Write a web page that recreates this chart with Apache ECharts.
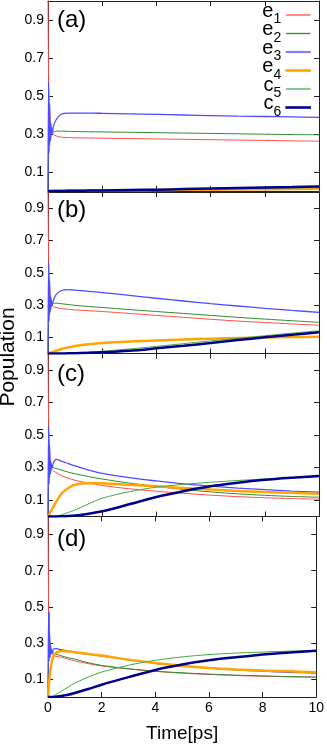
<!DOCTYPE html>
<html>
<head>
<meta charset="utf-8">
<script src="https://cdn.jsdelivr.net/npm/echarts@6/dist/echarts.min.js"></script>
<style>html,body{margin:0;padding:0;background:#fff;}#c{width:327px;height:744px;}</style>
</head>
<body>
<div id="c"></div>
<script>
// ---- data ----
const times = [0, 0.02, 0.04, 0.06, 0.08, 0.1, 0.15, 0.2, 0.3, 0.5, 0.75, 1, 1.5, 2, 3, 4, 5, 6, 7, 8, 9, 10];
const seriesNames = ['e1', 'e2', 'e3', 'e4', 'c5', 'c6'];
const panelLabels = ['(a)', '(b)', '(c)', '(d)'];
const yTicks = [0.1, 0.3, 0.5, 0.7, 0.9];

// panel (a)
const aE1 = [1.0, 0.62, 0.50, 0.44, 0.38, 0.34, 0.31, 0.30, 0.29, 0.283, 0.281, 0.280, 0.279, 0.278, 0.276, 0.274, 0.272, 0.270, 0.268, 0.266, 0.264, 0.262];
const aE2 = [0.0, 0.22, 0.45, 0.24, 0.36, 0.27, 0.33, 0.31, 0.315, 0.315, 0.314, 0.313, 0.312, 0.311, 0.309, 0.307, 0.305, 0.303, 0.301, 0.299, 0.297, 0.296];
const aE3 = [0.0, 0.57, 0.20, 0.46, 0.26, 0.36, 0.30, 0.34, 0.375, 0.405, 0.41, 0.41, 0.41, 0.409, 0.406, 0.403, 0.400, 0.397, 0.394, 0.392, 0.390, 0.388];
const aE4 = [0, 0, 0, 0, 0, 0, 0, 0, 0.001, 0.001, 0.002, 0.002, 0.003, 0.003, 0.004, 0.005, 0.006, 0.007, 0.008, 0.009, 0.010, 0.012];
const aC5 = [0, 0, 0, 0, 0, 0, 0, 0, 0, 0.001, 0.001, 0.002, 0.002, 0.003, 0.004, 0.006, 0.008, 0.010, 0.012, 0.014, 0.016, 0.018];
const aC6 = [0, 0, 0, 0, 0, 0, 0, 0, 0, 0, 0.001, 0.001, 0.002, 0.003, 0.005, 0.007, 0.010, 0.013, 0.016, 0.019, 0.021, 0.024];

// panel (b)
const bE1 = [1.0, 0.62, 0.49, 0.42, 0.36, 0.33, 0.30, 0.29, 0.285, 0.278, 0.274, 0.270, 0.265, 0.260, 0.248, 0.236, 0.224, 0.212, 0.201, 0.192, 0.183, 0.175];
const bE2 = [0.0, 0.22, 0.44, 0.24, 0.35, 0.27, 0.32, 0.31, 0.312, 0.308, 0.303, 0.298, 0.291, 0.285, 0.272, 0.260, 0.248, 0.236, 0.224, 0.213, 0.203, 0.193];
const bE3 = [0.0, 0.56, 0.20, 0.45, 0.26, 0.35, 0.30, 0.33, 0.365, 0.39, 0.395, 0.393, 0.385, 0.377, 0.360, 0.342, 0.325, 0.309, 0.294, 0.280, 0.267, 0.255];
const bE4 = [0, 0.001, 0.002, 0.003, 0.004, 0.005, 0.008, 0.011, 0.017, 0.028, 0.038, 0.046, 0.057, 0.065, 0.074, 0.081, 0.087, 0.092, 0.096, 0.099, 0.102, 0.104];
const bC5 = [0, 0, 0, 0, 0, 0, 0, 0, 0, 0.001, 0.003, 0.005, 0.009, 0.014, 0.028, 0.044, 0.061, 0.078, 0.094, 0.110, 0.126, 0.141];
const bC6 = [0, 0, 0, 0, 0, 0, 0, 0, 0, 0, 0.001, 0.002, 0.004, 0.007, 0.017, 0.032, 0.048, 0.065, 0.083, 0.100, 0.116, 0.131];

// panel (c)
const cE1 = [1.0, 0.62, 0.48, 0.40, 0.35, 0.32, 0.29, 0.28, 0.27, 0.25, 0.235, 0.222, 0.205, 0.190, 0.170, 0.155, 0.142, 0.131, 0.122, 0.115, 0.110, 0.106];
const cE2 = [0.0, 0.22, 0.42, 0.24, 0.34, 0.27, 0.31, 0.30, 0.295, 0.285, 0.272, 0.262, 0.245, 0.230, 0.205, 0.185, 0.166, 0.151, 0.139, 0.130, 0.123, 0.118];
const cE3 = [0.0, 0.55, 0.20, 0.44, 0.26, 0.34, 0.30, 0.33, 0.35, 0.34, 0.325, 0.31, 0.285, 0.265, 0.238, 0.218, 0.200, 0.186, 0.174, 0.165, 0.156, 0.149];
const cE4 = [0, 0.006, 0.012, 0.018, 0.024, 0.03, 0.045, 0.06, 0.09, 0.14, 0.175, 0.195, 0.205, 0.204, 0.195, 0.185, 0.175, 0.165, 0.157, 0.150, 0.145, 0.140];
const cC5 = [0, 0, 0, 0, 0, 0, 0, 0, 0.002, 0.010, 0.025, 0.040, 0.078, 0.112, 0.152, 0.180, 0.197, 0.210, 0.221, 0.230, 0.238, 0.245];
const cC6 = [0, 0, 0, 0, 0, 0, 0, 0, 0, 0.001, 0.003, 0.006, 0.017, 0.032, 0.075, 0.120, 0.155, 0.185, 0.207, 0.225, 0.238, 0.249];

// panel (d)
const dE1 = [1.0, 0.55, 0.38, 0.33, 0.28, 0.26, 0.24, 0.23, 0.225, 0.22, 0.21, 0.20, 0.185, 0.172, 0.155, 0.142, 0.132, 0.125, 0.119, 0.115, 0.112, 0.110];
const dE2 = [0.0, 0.20, 0.47, 0.22, 0.30, 0.24, 0.26, 0.245, 0.238, 0.228, 0.218, 0.21, 0.19, 0.175, 0.157, 0.143, 0.134, 0.127, 0.121, 0.117, 0.113, 0.110];
const dE3 = [0.0, 0.47, 0.20, 0.36, 0.22, 0.28, 0.24, 0.265, 0.268, 0.262, 0.255, 0.248, 0.237, 0.227, 0.206, 0.187, 0.172, 0.160, 0.150, 0.143, 0.137, 0.132];
const dE4 = [0, 0.04, 0.08, 0.11, 0.14, 0.16, 0.20, 0.225, 0.245, 0.255, 0.252, 0.248, 0.238, 0.230, 0.207, 0.188, 0.173, 0.161, 0.153, 0.147, 0.142, 0.137];
const dC5 = [0, 0, 0, 0, 0, 0, 0.002, 0.006, 0.014, 0.032, 0.055, 0.077, 0.110, 0.138, 0.176, 0.203, 0.222, 0.235, 0.243, 0.249, 0.254, 0.258];
const dC6 = [0, 0, 0, 0, 0, 0, 0, 0, 0.001, 0.005, 0.012, 0.022, 0.044, 0.068, 0.110, 0.150, 0.180, 0.203, 0.220, 0.235, 0.247, 0.256];

const panels = [
  [aE1, aE2, aE3, aE4, aC5, aC6],
  [bE1, bE2, bE3, bE4, bC5, bC6],
  [cE1, cE2, cE3, cE4, cC5, cC6],
  [dE1, dE2, dE3, dE4, dC5, dC6]
];

// ---- styles ----
const FONT = 'Liberation Sans';
const lineStyles = {
  e1: { color: '#ff4d4d', width: 1 },
  e2: { color: '#2e8b2e', width: 1 },
  e3: { color: '#4d4dff', width: 1.3 },
  e4: { color: '#ffa500', width: 2.5 },
  c5: { color: '#45a845', width: 1 },
  c6: { color: '#00008b', width: 2.5 }
};
const legendExtra = { e1: 0.4, e2: 0.4, e3: 1.2, e4: 1.6, c5: 0.4, c6: 1.6 };
const legendColor = { e1: '#ff5c5c', e2: '#3a8f3a', e3: '#8080ff', e4: '#ffa500', c5: '#55b055', c6: '#00008b' };
const gridBoxes = [
  { top: 1, height: 190 },
  { top: 192, height: 161.5 },
  { top: 353.5, height: 163 },
  { top: 516.5, height: 190 }
];
const labelY = [22, 212, 375.5, 540.5];
const axisColor = '#222';

const grid = [], xAxis = [], yAxis = [], series = [], graphic = [];
gridBoxes.forEach((g, i) => {
  grid.push({ left: 48, width: 271, top: g.top, height: g.height, containLabel: false });
  const isLast = i === gridBoxes.length - 1;
  const xBase = {
    gridIndex: i, type: 'value', min: 0, max: 10, interval: 2,
    axisLine: { show: true, onZero: false, lineStyle: { color: axisColor, width: 1 } },
    axisTick: { show: true, inside: true, length: 5, lineStyle: { color: axisColor } },
    splitLine: { show: false }
  };
  xAxis.push(Object.assign({}, xBase, {
    position: 'bottom',
    axisLabel: { show: isLast, color: '#000', fontFamily: FONT, fontSize: 14, margin: 4 },
    name: isLast ? 'Time[ps]' : '', nameLocation: 'middle', nameGap: 27,
    nameTextStyle: { color: '#000', fontFamily: FONT, fontSize: 19 }
  }));
  xAxis.push(Object.assign({}, xBase, { position: 'top', axisLabel: { show: false } }));
  const yBase = {
    gridIndex: i, type: 'value', min: 0, max: 1,
    axisLine: { show: true, onZero: false, lineStyle: { color: axisColor, width: 1 } },
    axisTick: { show: true, inside: true, length: 5, customValues: yTicks, lineStyle: { color: axisColor } },
    splitLine: { show: false }
  };
  yAxis.push(Object.assign({}, yBase, {
    position: 'left',
    axisLabel: { show: true, customValues: yTicks, formatter: v => v.toFixed(1), color: '#000', fontFamily: FONT, fontSize: 14, margin: 4 }
  }));
  yAxis.push(Object.assign({}, yBase, { position: 'right', axisLabel: { show: false } }));

  panels[i].forEach((vals, k) => {
    const nm = seriesNames[k];
    series.push({
      name: nm, type: 'line', xAxisIndex: 2 * i, yAxisIndex: 2 * i,
      symbol: 'none', showSymbol: false, smooth: 0.3,
      lineStyle: lineStyles[nm], itemStyle: { color: lineStyles[nm].color },
      z: 2 + k, animation: false,
      data: times.map((t, j) => [t, vals[j]])
    });
  });

  graphic.push({
    type: 'text', left: 57, top: labelY[i] - 13.5,
    style: { text: panelLabels[i], fontFamily: FONT, fontSize: 24, fill: '#000' }
  });
});

graphic.push({
  type: 'text', x: 8, y: 357, rotation: Math.PI / 2,
  style: { text: 'Population', fontFamily: FONT, fontSize: 21, fill: '#000', align: 'center', verticalAlign: 'middle' }
});

const legendData = seriesNames.map(n => ({
  name: n, icon: 'rect',
  itemStyle: { color: legendColor[n], borderColor: legendColor[n], borderWidth: legendExtra[n] }
}));

const chart = echarts.init(document.getElementById('c'), null, { renderer: 'canvas' });
chart.setOption({
  animation: false,
  backgroundColor: '#fff',
  grid, xAxis, yAxis, series, graphic,
  legend: {
    data: legendData, orient: 'vertical', right: 16, top: 1, padding: 0,
    align: 'right', itemWidth: 24, itemHeight: 1, itemGap: -9.5,
    selectedMode: false,
    formatter: n => '{b|' + n.charAt(0) + '}{s|' + n.slice(1) + '}',
    textStyle: {
      color: '#000', fontFamily: FONT,
      rich: {
        b: { fontSize: 20, lineHeight: 17, padding: [0, 0, 8, 0], fontFamily: FONT, color: '#000' },
        s: { fontSize: 14, lineHeight: 12, padding: [9, 0, 0, 0], fontFamily: FONT, color: '#000' }
      }
    }
  }
});
</script>
</body>
</html>
